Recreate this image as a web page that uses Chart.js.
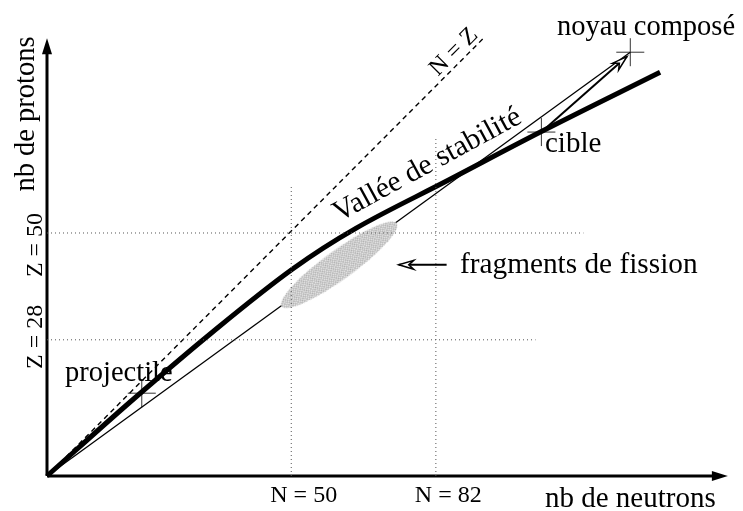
<!DOCTYPE html>
<html>
<head>
<meta charset="utf-8">
<script src="https://cdn.jsdelivr.net/npm/chart.js@4/dist/chart.umd.min.js"></script>
<style>
  html, body { margin: 0; padding: 0; background: #fff; }
  #wrap { width: 743px; height: 511px; }
</style>
</head>
<body>
<div id="wrap"><canvas id="chart"></canvas></div>
<script>
// schema "vallée de stabilité" : unités ~ nb de nucléons (schématique)
const xMax = 139.4;
const yMax = 89.4;

// axes (fin de la hampe, la pointe est ajoutée par le plugin)
const axisN = [0, 136.3];
const axisZ = [0, 86.3];

// graduations
const nTickValues = [50, 79.6];
const nTickLabels = ['N = 50', 'N = 82'];
const zTickValues = [49.6, 27.8];
const zTickLabels = ['Z = 50', 'Z = 28'];
const nGuideTop = [59, 69.2];     // hauteur des pointillés verticaux
const zGuideEnd = [109.8, 100];   // longueur des pointillés horizontaux

// vallée de stabilité
const valleyN = [0, 16.9, 33.9, 50.2, 63.3, 82.2, 101.2, 125.5];
const valleyZ = [0, 15.0, 29.4, 42.2, 50.6, 60.4, 70.3, 82.4];

// droite N = Z
const nzN = [0, 89.4];
const nzZ = [0, 89.4];

// droite origine -> noyau composé
const reactionN = [0, 119.4];
const reactionZ = [0, 86.5];

// flèche cible -> noyau composé
const fusionN = [101.2, 118.7];
const fusionZ = [70.2, 85.6];

// flèche vers les fragments
const pointerN = [81.8, 72.0];
const pointerZ = [43.1, 43.1];

// repères (+)
const markN = [19.4, 101.2, 119.4];
const markZ = [16.9, 70.2, 86.5];
const fragmentN = [59.8];
const fragmentZ = [43.1];

const toPts = (xs, ys) => xs.map((x, i) => ({ x, y: ys[i] }));
const FONT = '"Liberation Serif", "Times New Roman", serif';

function makeFragmentBlob() {
    const c = document.createElement('canvas');
    c.width = 146; c.height = 32;
    const g = c.getContext('2d');
    g.save();
    g.beginPath();
    g.ellipse(73, 16, 71, 14.5, 0, 0, Math.PI * 2);
    g.clip();
    g.fillStyle = '#e2e2e2';
    g.fillRect(0, 0, c.width, c.height);
    g.strokeStyle = 'rgba(140,140,140,0.6)';
    g.lineWidth = 0.7;
    for (let i = -40; i < 190; i += 3) {
        g.beginPath(); g.moveTo(i, 0); g.lineTo(i + 32, 32); g.stroke();
        g.beginPath(); g.moveTo(i + 32, 0); g.lineTo(i, 32); g.stroke();
    }
    g.restore();
    return c;
}

const line = (data, extra) => Object.assign({
    data, showLine: true, pointRadius: 0, borderColor: '#000',
    backgroundColor: '#000', borderWidth: 1, clip: false
}, extra);

const arrowHeads = {
    id: 'arrowHeads',
    afterDatasetsDraw(chart) {
        const ctx = chart.ctx;
        chart.data.datasets.forEach((ds, i) => {
            if (!ds.arrow) return;
            const pts = chart.getDatasetMeta(i).data;
            const a = pts[pts.length - 2], b = pts[pts.length - 1];
            const ang = Math.atan2(b.y - a.y, b.x - a.x);
            ctx.save();
            ctx.translate(b.x, b.y);
            ctx.rotate(ang);
            ctx.beginPath();
            if (ds.arrow === 'solid') {
                ctx.moveTo(15, 0); ctx.lineTo(-1, -5); ctx.lineTo(-1, 5); ctx.closePath();
                ctx.fillStyle = '#000'; ctx.fill();
            } else {
                ctx.moveTo(0, 0); ctx.lineTo(-15, -4.5); ctx.lineTo(-10, 0); ctx.lineTo(-15, 4.5); ctx.closePath();
                ctx.fillStyle = '#fff'; ctx.fill();
                ctx.lineWidth = 1.5; ctx.strokeStyle = '#000'; ctx.stroke();
            }
            ctx.restore();
        });
    }
};

const labels = {
    id: 'labels',
    afterDraw(chart) {
        const ctx = chart.ctx;
        const X = v => chart.scales.x.getPixelForValue(v);
        const Y = v => chart.scales.y.getPixelForValue(v);
        const bottom = chart.chartArea.bottom;
        const put = (s, x, y, size, align, rot, base) => {
            ctx.save();
            ctx.translate(x, y);
            if (rot) ctx.rotate(rot * Math.PI / 180);
            ctx.font = size + 'px ' + FONT;
            ctx.fillStyle = '#000';
            ctx.textAlign = align || 'left';
            ctx.textBaseline = base || 'alphabetic';
            ctx.fillText(s, 0, 0);
            ctx.restore();
        };
        nTickLabels.forEach((s, i) => put(s, X(nTickValues[i]) - 21, bottom + 26, 24));
        const zShift = [12, -3];
        zTickLabels.forEach((s, i) => put(s, 42, Y(zTickValues[i]) + zShift[i], 24, 'center', -90));
        put('nb de neutrons', 545, 507, 29);
        put('nb de protons', 27, 114, 28.5, 'center', -90, 'middle');
        put('noyau composé', 557, 35, 28.5);
        put('cible', 545, 152, 29);
        put('projectile', 65, 381, 28.5);
        put('fragments de fission', 460, 273, 29.3);
        put('Vallée de stabilité', 339, 222, 29.5, 'left', -28.5);
        put('N = Z', 454, 52, 24, 'center', -45, 'middle');
    }
};

new Chart(document.getElementById('chart'), {
    type: 'scatter',
    data: {
        datasets: [
            // pointillés
            line(toPts([nTickValues[0], nTickValues[0]], [0, nGuideTop[0]]), { borderColor: '#555', borderDash: [1, 3] }),
            line(toPts([nTickValues[1], nTickValues[1]], [0, nGuideTop[1]]), { borderColor: '#555', borderDash: [1, 3] }),
            line(toPts([0, zGuideEnd[0]], [zTickValues[0], zTickValues[0]]), { borderColor: '#555', borderDash: [1, 3] }),
            line(toPts([0, zGuideEnd[1]], [zTickValues[1], zTickValues[1]]), { borderColor: '#555', borderDash: [1, 3] }),
            // fragments de fission
            {
                data: toPts(fragmentN, fragmentZ), pointStyle: makeFragmentBlob(), rotation: -35.9,
                pointRadius: 5, clip: false
            },
            line(toPts(nzN, nzZ), { borderDash: [5, 4], borderWidth: 1.4 }),
            line(toPts(reactionN, reactionZ), { borderWidth: 1.3 }),
            line(toPts(valleyN, valleyZ), { borderWidth: 5, tension: 0.35 }),
            line(toPts(fusionN, fusionZ), { borderWidth: 2, arrow: 'open' }),
            line(toPts(pointerN, pointerZ), { borderWidth: 2, arrow: 'open' }),
            {
                data: toPts(markN, markZ), pointStyle: 'cross', pointRadius: 14,
                borderColor: '#333', borderWidth: 1, clip: false
            },
            {
                data: toPts(fragmentN, fragmentZ), pointStyle: 'cross', pointRadius: 8, rotation: 15,
                borderColor: '#333', borderWidth: 1, clip: false
            },
            // axes
            line(toPts(axisN, [0, 0]), { borderWidth: 3, arrow: 'solid' }),
            line(toPts([0, 0], axisZ), { borderWidth: 3, arrow: 'solid' })
        ]
    },
    options: {
        responsive: true,
        maintainAspectRatio: false,
        animation: false,
        events: [],
        layout: { padding: { left: 47, right: 13, top: 38, bottom: 35 } },
        scales: {
            x: { type: 'linear', min: 0, max: xMax, display: false },
            y: { type: 'linear', min: 0, max: yMax, display: false }
        },
        plugins: { legend: { display: false }, tooltip: { enabled: false } }
    },
    plugins: [arrowHeads, labels]
});
</script>
</body>
</html>
